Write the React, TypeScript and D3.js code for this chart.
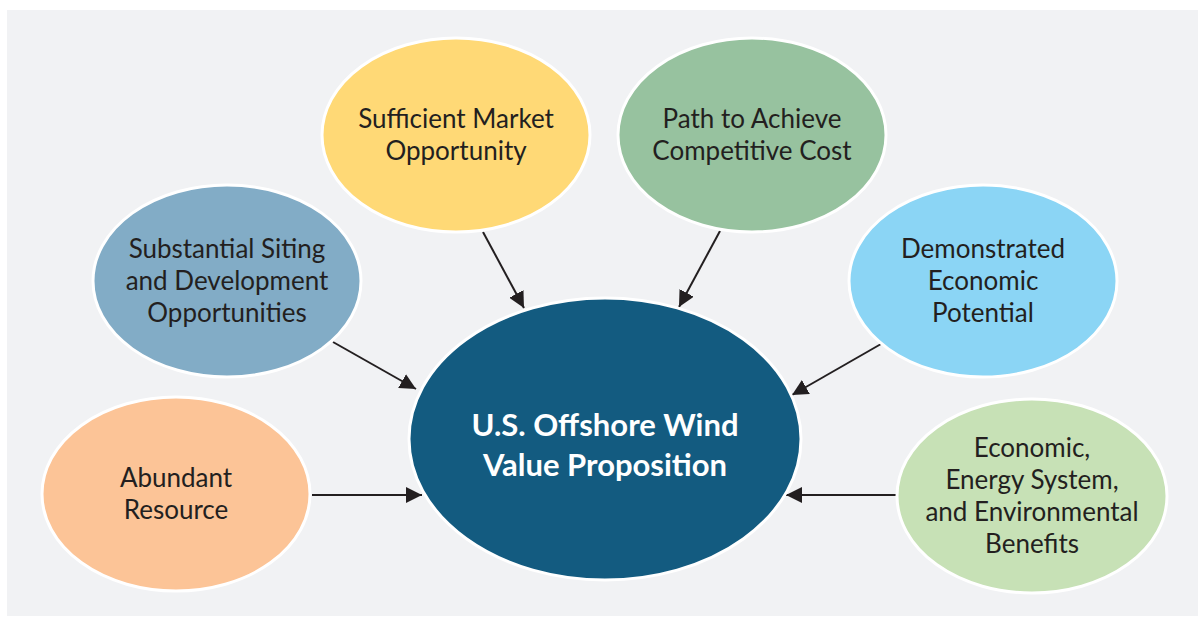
import React, { useEffect, useRef } from 'react';
import { select } from 'd3';

// node labels, one array of lines per node
const hubLabel = ['U.S. Offshore Wind', 'Value Proposition'];
const nodeLabels = [
  ['Sufficient Market', 'Opportunity'],
  ['Path to Achieve', 'Competitive Cost'],
  ['Substantial Siting', 'and Development', 'Opportunities'],
  ['Demonstrated', 'Economic', 'Potential'],
  ['Abundant', 'Resource'],
  ['Economic,', 'Energy System,', 'and Environmental', 'Benefits'],
];
const nodeColors = ['#ffd976', '#97c29f', '#82acc6', '#8bd5f5', '#fcc497', '#c7e1b6'];

// layout (diagram geometry, kept apart from the labels)
const W = 1199;
const H = 621;
const hub = { cx: 605, cy: 439, rx: 196, ry: 141 };
const nodePos = [
  { cx: 456, cy: 135, rx: 134, ry: 97 },
  { cx: 752, cy: 135, rx: 134, ry: 97 },
  { cx: 227, cy: 281, rx: 134, ry: 96 },
  { cx: 983, cy: 281, rx: 134, ry: 96 },
  { cx: 176, cy: 494, rx: 134, ry: 97 },
  { cx: 1032, cy: 496, rx: 135, ry: 97 },
];
const arrowPos = [
  [483, 232, 524, 308],
  [720, 231, 679, 307],
  [333, 342, 416, 389],
  [881, 344, 792, 395],
  [312, 495, 422, 495],
  [898, 495, 786, 495],
];

const App = () => {
  const svgRef = useRef<SVGSVGElement>(null);

  useEffect(() => {
    const svg = select(svgRef.current);
    svg.selectAll('*').remove();

    svg.append('rect').attr('width', W).attr('height', H).attr('fill', '#ffffff');
    svg.append('rect')
      .attr('x', 7).attr('y', 10)
      .attr('width', 1191).attr('height', 606)
      .attr('fill', '#f1f2f4');

    svg.append('defs').append('marker')
      .attr('id', 'head')
      .attr('viewBox', '0 0 16 16')
      .attr('refX', 16).attr('refY', 8)
      .attr('markerWidth', 16).attr('markerHeight', 16)
      .attr('markerUnits', 'userSpaceOnUse')
      .attr('orient', 'auto')
      .append('path')
      .attr('d', 'M0,0 L16,8 L0,16 Z')
      .attr('fill', '#231f20');

    svg.append('g').selectAll('line')
      .data(arrowPos)
      .join('line')
      .attr('x1', d => d[0]).attr('y1', d => d[1])
      .attr('x2', d => d[2]).attr('y2', d => d[3])
      .attr('stroke', '#231f20')
      .attr('stroke-width', 2)
      .attr('marker-end', 'url(#head)');

    const nodes = svg.append('g').selectAll('g')
      .data(nodeLabels)
      .join('g')
      .attr('transform', (d, i) => `translate(${nodePos[i].cx},${nodePos[i].cy})`);

    nodes.append('ellipse')
      .attr('rx', (d, i) => nodePos[i].rx)
      .attr('ry', (d, i) => nodePos[i].ry)
      .attr('fill', (d, i) => nodeColors[i])
      .attr('stroke', '#ffffff')
      .attr('stroke-width', 3);

    nodes.append('text')
      .attr('text-anchor', 'middle')
      .attr('font-family', 'Lato, sans-serif')
      .attr('font-size', 26)
      .attr('fill', '#231f20')
      .selectAll('tspan')
      .data(d => d.map((line, j) => ({ line, j, n: d.length })))
      .join('tspan')
      .attr('x', 0)
      .attr('y', d => (d.j - (d.n - 1) / 2) * 32 + 9)
      .text(d => d.line);

    const h = svg.append('g').attr('transform', `translate(${hub.cx},${hub.cy})`);
    h.append('ellipse')
      .attr('rx', hub.rx).attr('ry', hub.ry)
      .attr('fill', '#135b80')
      .attr('stroke', '#ffffff')
      .attr('stroke-width', 3);
    h.append('text')
      .attr('text-anchor', 'middle')
      .attr('font-family', 'Lato, sans-serif')
      .attr('font-weight', 'bold')
      .attr('font-size', 31)
      .attr('fill', '#ffffff')
      .selectAll('tspan')
      .data(hubLabel)
      .join('tspan')
      .attr('x', 0)
      .attr('y', (d, i) => (i - 0.5) * 40 + 17)
      .text(d => d);
  }, []);

  return (
    <svg ref={svgRef} width={W} height={H}
      style={{ position: 'absolute', left: 0, top: 0, display: 'block' }} />
  );
};

export default App;
